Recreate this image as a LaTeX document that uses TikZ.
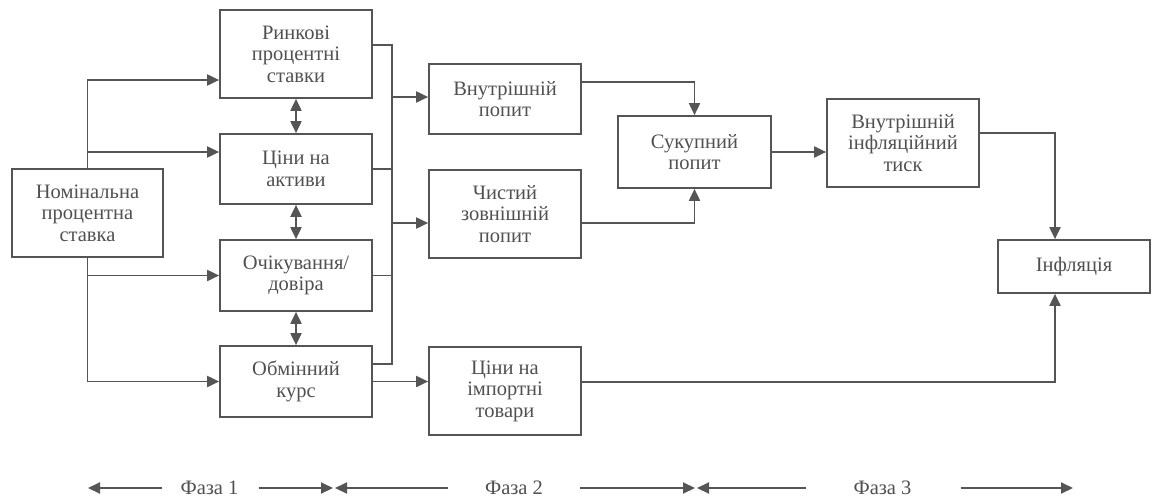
\documentclass[tikz,border=0pt]{standalone}
\usepackage{fontspec}
\setmainfont{Liberation Serif}
\usetikzlibrary{arrows.meta,calc}
\definecolor{ln}{HTML}{555555}
\definecolor{tx}{HTML}{505050}
\begin{document}
\begin{tikzpicture}[x=1pt,y=-1pt,
  box/.style={draw=ln,line width=1.7pt,rectangle,inner sep=0pt,align=center,
    text=tx,font=\fontsize{20.5}{21.5}\selectfont},
  lbl/.style={inner sep=0pt,text=tx,font=\fontsize{20.5}{22}\selectfont},
  conn/.style={draw=ln,line width=1.9pt},
  arr/.style={conn,-{Triangle[length=12pt,width=11pt]}},
  darr/.style={conn,{Triangle[length=12pt,width=11pt]}-{Triangle[length=12pt,width=11pt]}}]
\useasboundingbox (0,0) rectangle (1157,501);
% boxes
\node[box,minimum width=151pt,minimum height=88pt] (nom) at (87.5,213) {Номінальна\\процентна\\ставка};
\node[box,minimum width=152pt,minimum height=88pt] (r1) at (296,54) {Ринкові\\процентні\\ставки};
\node[box,minimum width=152pt,minimum height=70pt] (r2) at (296,169) {Ціни на\\активи};
\node[box,minimum width=152pt,minimum height=71pt] (r3) at (296,275.5) {Очікування/\\довіра};
\node[box,minimum width=152pt,minimum height=71pt] (r4) at (296,381.5) {Обмінний\\курс};
\node[box,minimum width=152pt,minimum height=70pt] (d1) at (505,99) {Внутрішній\\попит};
\node[box,minimum width=152pt,minimum height=88pt] (d2) at (505,214) {Чистий\\зовнішній\\попит};
\node[box,minimum width=152pt,minimum height=88pt] (d3) at (505,391) {Ціни на\\імпортні\\товари};
\node[box,minimum width=153pt,minimum height=72pt] (agg) at (694.5,152) {Сукупний\\попит};
\node[box,minimum width=152pt,minimum height=88pt] (ip) at (903,143) {Внутрішній\\інфляційний\\тиск};
\node[box,minimum width=152pt,minimum height=53pt] (inf) at (1074,266.5) {Інфляція};
% anchor points
\coordinate (a1) at ($(r1.west)+(0,26)$);
\coordinate (a2) at ($(r2.west)+(0,-17)$);
\coordinate (e1) at ($(r1.east)+(0,-9)$);
\coordinate (e4) at ($(r4.east)+(0,-17.5)$);
\coordinate (bt) at ($(e1)+(19,0)$);
\coordinate (bb) at ($(e4)+(19,0)$);
\coordinate (w1) at ($(d1.west)+(0,-2)$);
\coordinate (w2) at ($(d2.west)+(0,9)$);
\coordinate (o1) at ($(d1.east)+(0,-17)$);
\coordinate (o2) at ($(d2.east)+(0,9)$);
\coordinate (o3) at ($(d3.east)+(0,-9)$);
\coordinate (oi) at ($(ip.east)+(0,-10)$);
\coordinate (it) at ($(inf.north)+(-19,0)$);
\coordinate (ib) at ($(inf.south)+(-19,0)$);
% left bus
\draw[arr] (nom.north) |- (a1);
\draw[arr] (nom.north |- a2) -- (a2);
\draw[arr] (nom.south) |- (r3.west);
\draw[arr] (nom.south) |- (r4.west);
% double arrows
\draw[darr] (r1.south) -- (r2.north);
\draw[darr] (r2.south) -- (r3.north);
\draw[darr] (r3.south) -- (r4.north);
% right bus
\draw[conn] (e1) -- (bt) -- (bb) -- (e4);
\draw[conn] (r2.east) -- (r2.east -| bt);
\draw[conn] (r3.east) -- (r3.east -| bt);
\draw[arr] (w1 -| bt) -- (w1);
\draw[arr] (w2 -| bt) -- (w2);
\draw[arr] (r4.east) -- (r4.east -| d3.west);
% demand to aggregate
\draw[arr] (o1) -| (agg.north);
\draw[arr] (o2) -| (agg.south);
\draw[arr] (agg.east) -- (agg.east -| ip.west);
\draw[arr] (oi) -| (it);
\draw[arr] (o3) -| (ib);
% phases
\node[lbl] (p1) at (209.5,488) {Фаза 1};
\node[lbl] (p2) at (514,488) {Фаза 2};
\node[lbl] (p3) at (882.5,488) {Фаза 3};
\coordinate (f0) at (88,488);
\coordinate (f1a) at (333,488);
\coordinate (f1b) at (335,488);
\coordinate (f2a) at (695,488);
\coordinate (f2b) at (697,488);
\coordinate (f3) at (1073,488);
\draw[arr] ($(p1.west)+(-18,0)$) -- (f0);
\draw[arr] ($(p1.east)+(20,0)$) -- (f1a);
\draw[arr] ($(p2.west)+(-37,0)$) -- (f1b);
\draw[arr] ($(p2.east)+(37,0)$) -- (f2a);
\draw[arr] ($(p3.west)+(-47,0)$) -- (f2b);
\draw[arr] ($(p3.east)+(49,0)$) -- (f3);
\end{tikzpicture}
\end{document}
